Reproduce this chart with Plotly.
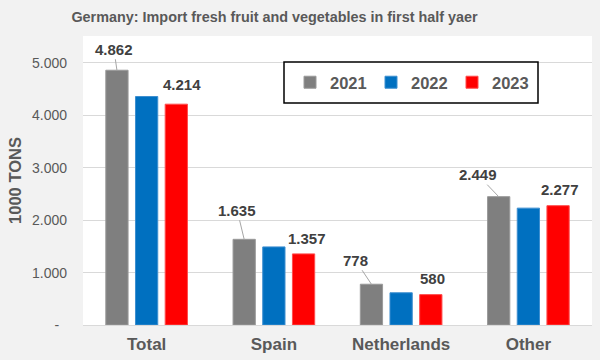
import plotly.graph_objects as go

categories = ["Total", "Spain", "Netherlands", "Other"]
years = ["2021", "2022", "2023"]
v2021 = [4862, 1635, 778, 2449]
v2022 = [4360, 1490, 615, 2230]
v2023 = [4214, 1357, 580, 2277]
colors = ["#7f7f7f", "#0070c0", "#ff0000"]
edge = ["#9a9a9a", "#3d8fd0", "#ff4d4d"]
ytick_vals = [0, 1000, 2000, 3000, 4000, 5000]
ytick_text = ["-\u00a0\u00a0", "1.000", "2.000", "3.000", "4.000", "5.000"]

# label offsets (pixels) relative to bar tops
off2021 = [(-3, -21), (-7, -29), (-16, -24), (-21, -22)]
off2023 = [(6, -20), (3, -15), (2, -16), (2, -16)]

FONT = "Liberation Sans, Arial, sans-serif"
idx = list(range(len(categories)))

fig = go.Figure()
for name, vals, c, e in zip(years, [v2021, v2022, v2023], colors, edge):
    fig.add_trace(go.Bar(x=idx, y=vals, name=f"<b>{name}</b>",
                         marker=dict(color=c, line=dict(color=e, width=1))))

bargap = 0.3
slot = (1 - bargap) / 3
PW, PH, L, T = 509, 289, 83, 36


def fmt(v):
    return f"{v:,}".replace(",", ".")


anns = []
for i, (v, (dx, dy)) in enumerate(zip(v2021, off2021)):
    anns.append(dict(x=i - slot, y=v, xref="x", yref="y", text=f"<b>{fmt(v)}</b>",
                     showarrow=True, arrowhead=0, arrowwidth=1, arrowcolor="#a6a6a6",
                     ax=dx, ay=dy, standoff=0,
                     font=dict(family=FONT, size=15, color="#404040")))
for i, (v, (dx, dy)) in enumerate(zip(v2023, off2023)):
    anns.append(dict(x=i + slot, y=v, xref="x", yref="y", text=f"<b>{fmt(v)}</b>",
                     showarrow=False, xshift=dx, yshift=-dy, yanchor="middle",
                     font=dict(family=FONT, size=15, color="#404040")))

# legend frame
box = dict(type="rect", xref="paper", yref="paper",
           x0=(284 - L) / PW, x1=(538 - L) / PW,
           y0=(T + PH - 103) / PH, y1=(T + PH - 62) / PH,
           fillcolor="#ffffff", line=dict(color="#000000", width=1.5), layer="above")

fig.update_layout(
    width=600, height=360,
    margin=dict(l=L, r=600 - L - PW, t=T, b=360 - T - PH, autoexpand=False),
    paper_bgcolor="#f2f2f2",
    plot_bgcolor="#ffffff",
    barmode="group", bargap=bargap, bargroupgap=0.25,
    font=dict(family=FONT, color="#595959"),
    title=dict(text="<b>Germany: Import fresh fruit and vegetables in first half yaer</b>",
               x=0.4575, xanchor="center", y=1 - 17 / 360, yanchor="middle",
               font=dict(family=FONT, size=14.4, color="#595959")),
    xaxis=dict(tickmode="array", tickvals=idx, ticktext=[f"<b>{c}</b>" for c in categories],
               range=[-0.5, len(categories) - 0.5], showgrid=False, zeroline=False,
               showline=True, linecolor="#d9d9d9", linewidth=1, ticks="", automargin=False,
               tickfont=dict(family=FONT, size=17, color="#595959"), ticklabelstandoff=4),
    yaxis=dict(range=[0, 5515], tickmode="array", tickvals=ytick_vals, ticktext=ytick_text,
               showgrid=True, gridcolor="#d9d9d9", gridwidth=1, zeroline=False,
               ticks="", tickfont=dict(family=FONT, size=14, color="#595959"),
               ticklabelstandoff=15, automargin=False,
               title=dict(text="<b>1000 TONS</b>", standoff=6,
                          font=dict(family=FONT, size=16.5, color="#595959"))),
    legend=dict(orientation="h", x=(290 - L) / PW, xanchor="left",
                y=(T + PH - 82.5) / PH, yanchor="middle",
                bgcolor="rgba(0,0,0,0)", borderwidth=0,
                font=dict(family=FONT, size=16.5, color="#595959"),
                entrywidth=36, entrywidthmode="pixels"),
    annotations=anns,
    shapes=[box],
    showlegend=True,
)

fig.write_html("out.html", config={"displayModeBar": False},
               post_script="document.body.style.margin='0';document.body.style.background='#f2f2f2';")
